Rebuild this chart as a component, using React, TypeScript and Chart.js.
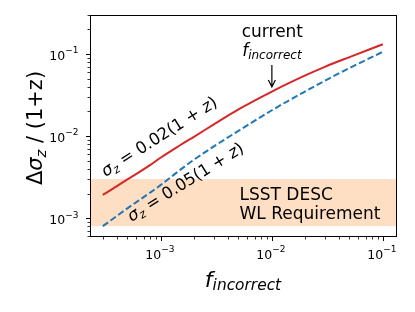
import { useEffect, useRef } from "react";
import { Chart, registerables } from "chart.js";

Chart.register(...registerables);

// ---- data ----
const fIncorrect = [3e-4, 5e-4, 8e-4, 1e-3, 1.5e-3, 2e-3, 3e-3, 5e-3, 1e-2, 2e-2, 3e-2, 5e-2, 1e-1];
const sigma002 = [1.92e-3, 2.97e-3, 4.43e-3, 5.5e-3, 7.8e-3, 9.9e-3, 0.0139, 0.0212, 0.035, 0.055, 0.07, 0.092, 0.132];
const sigma005 = [8e-4, 1.32e-3, 2.05e-3, 2.55e-3, 3.9e-3, 5.2e-3, 7.5e-3, 0.0116, 0.0207, 0.0352, 0.0474, 0.0676, 0.107];

const bandLow = 8e-4;
const bandHigh = 3e-3;

const xMajorTicks = [1e-3, 1e-2, 1e-1];
const xTickExponents = ["\u22123", "\u22122", "\u22121"];
const xMinorTicks = [3e-4, 4e-4, 5e-4, 6e-4, 7e-4, 8e-4, 9e-4, 2e-3, 3e-3, 4e-3, 5e-3, 6e-3, 7e-3, 8e-3, 9e-3, 2e-2, 3e-2, 4e-2, 5e-2, 6e-2, 7e-2, 8e-2, 9e-2];
const yMajorTicks = [1e-3, 1e-2, 1e-1];
const yTickExponents = ["\u22123", "\u22122", "\u22121"];
const yMinorTicks = [6e-4, 7e-4, 8e-4, 9e-4, 2e-3, 3e-3, 4e-3, 5e-3, 6e-3, 7e-3, 8e-3, 9e-3, 2e-2, 3e-2, 4e-2, 5e-2, 6e-2, 7e-2, 8e-2, 9e-2, 2e-1, 3e-1];

const arrowX = 1e-2;

const FAM = '"DejaVu Sans"';
type Part = { t: string; size: number; italic?: boolean; dy?: number };

function drawParts(
  ctx: CanvasRenderingContext2D,
  parts: Part[],
  x: number,
  y: number,
  align: "left" | "center" | "right",
  angle = 0
) {
  ctx.save();
  ctx.translate(x, y);
  ctx.rotate(angle);
  ctx.textBaseline = "alphabetic";
  ctx.textAlign = "left";
  ctx.fillStyle = "#000";
  const widths = parts.map((p) => {
    ctx.font = `${p.italic ? "italic " : ""}${p.size}px ${FAM}`;
    return ctx.measureText(p.t).width;
  });
  const total = widths.reduce((a, b) => a + b, 0);
  let cx = align === "center" ? -total / 2 : align === "right" ? -total : 0;
  parts.forEach((p, i) => {
    ctx.font = `${p.italic ? "italic " : ""}${p.size}px ${FAM}`;
    ctx.fillText(p.t, cx, p.dy || 0);
    cx += widths[i];
  });
  ctx.restore();
}

const tickLabel = (exp: string): Part[] => [
  { t: "10", size: 12.5 },
  { t: exp, size: 9, dy: -6.5 },
];

const deco = {
  id: "deco",
  beforeDatasetsDraw(chart: any) {
    const { ctx, chartArea } = chart;
    const ys = chart.scales.y;
    const top = ys.getPixelForValue(bandHigh);
    const bot = ys.getPixelForValue(bandLow);
    ctx.save();
    ctx.fillStyle = "#ffdfc3";
    ctx.fillRect(chartArea.left, top, chartArea.right - chartArea.left, bot - top);
    ctx.restore();
  },
  afterDraw(chart: any) {
    const { ctx, chartArea } = chart;
    const xs = chart.scales.x;
    const ys = chart.scales.y;
    const { left, right, top, bottom } = chartArea;
    ctx.save();
    // frame
    ctx.strokeStyle = "#000";
    ctx.lineWidth = 1;
    ctx.strokeRect(left + 0.5, top + 0.5, right - left - 1, bottom - top - 1);
    // ticks
    ctx.beginPath();
    xMajorTicks.forEach((v) => {
      const p = Math.round(xs.getPixelForValue(v)) + 0.5;
      ctx.moveTo(p, bottom);
      ctx.lineTo(p, bottom + 4);
    });
    yMajorTicks.forEach((v) => {
      const p = Math.round(ys.getPixelForValue(v)) + 0.5;
      ctx.moveTo(left, p);
      ctx.lineTo(left - 4, p);
    });
    ctx.stroke();
    ctx.beginPath();
    ctx.lineWidth = 0.8;
    xMinorTicks.forEach((v) => {
      const p = Math.round(xs.getPixelForValue(v)) + 0.5;
      ctx.moveTo(p, bottom);
      ctx.lineTo(p, bottom + 2.5);
    });
    yMinorTicks.forEach((v) => {
      const p = Math.round(ys.getPixelForValue(v)) + 0.5;
      if (p < top || p > bottom) return;
      ctx.moveTo(left, p);
      ctx.lineTo(left - 2.5, p);
    });
    ctx.stroke();
    ctx.restore();

    // tick labels
    xMajorTicks.forEach((v, i) => {
      drawParts(ctx, tickLabel(xTickExponents[i]), xs.getPixelForValue(v) - 1, 258.5, "center");
    });
    yMajorTicks.forEach((v, i) => {
      drawParts(ctx, tickLabel(yTickExponents[i]), 78.5, ys.getPixelForValue(v) + 5.8, "right");
    });

    // axis titles
    drawParts(
      ctx,
      [
        { t: "f", size: 22, italic: true },
        { t: "incorrect", size: 15.4, italic: true, dy: 3 },
      ],
      243,
      287,
      "center"
    );
    drawParts(
      ctx,
      [
        { t: "\u0394", size: 21 },
        { t: "\u03C3", size: 21, italic: true },
        { t: "z", size: 14.7, italic: true, dy: 4 },
        { t: " / (1+z)", size: 21 },
      ],
      42,
      128,
      "center",
      -Math.PI / 2
    );

    // band text
    drawParts(ctx, [{ t: "LSST DESC", size: 17 }], 239.5, 199.5, "left");
    drawParts(ctx, [{ t: "WL Requirement", size: 17 }], 239.5, 218.5, "left");

    // current f_incorrect annotation
    const ax = xs.getPixelForValue(arrowX);
    drawParts(ctx, [{ t: "current", size: 17 }], ax + 0.5, 36.7, "center");
    drawParts(
      ctx,
      [
        { t: "f", size: 17, italic: true },
        { t: "incorrect", size: 12, italic: true, dy: 2.5 },
      ],
      ax,
      56,
      "center"
    );
    ctx.save();
    ctx.strokeStyle = "#000";
    ctx.lineWidth = 1.2;
    ctx.beginPath();
    ctx.moveTo(ax, 65);
    ctx.lineTo(ax, 87);
    ctx.moveTo(ax - 3.5, 80);
    ctx.lineTo(ax, 87);
    ctx.lineTo(ax + 3.5, 80);
    ctx.stroke();
    ctx.restore();

    // rotated curve labels
    const lab = (c: string): Part[] => [
      { t: "\u03C3", size: 16.5, italic: true },
      { t: "z", size: 11.5, italic: true, dy: 3 },
      { t: " = " + c + "(1 + ", size: 16.5 },
      { t: "z", size: 16.5, italic: true },
      { t: ")", size: 16.5 },
    ];
    drawParts(ctx, lab("0.02"), 105.5, 177, "left", (-32.5 * Math.PI) / 180);
    drawParts(ctx, lab("0.05"), 131.5, 222, "left", (-32 * Math.PI) / 180);
  },
};

export default function App() {
  const ref = useRef<HTMLCanvasElement>(null);
  useEffect(() => {
    document.body.style.margin = "0";
    const chart = new Chart(ref.current!, {
      type: "line",
      data: {
        datasets: [
          {
            data: fIncorrect.map((x, i) => ({ x, y: sigma002[i] })),
            borderColor: "#d62728",
            borderWidth: 2,
            pointRadius: 0,
            fill: false,
            cubicInterpolationMode: "monotone",
          },
          {
            data: fIncorrect.map((x, i) => ({ x, y: sigma005[i] })),
            borderColor: "#1f77b4",
            borderWidth: 2,
            borderDash: [6.5, 3],
            pointRadius: 0,
            fill: false,
            cubicInterpolationMode: "monotone",
          },
        ],
      },
      options: {
        responsive: false,
        animation: false,
        events: [],
        layout: { padding: { left: 0, right: 18, top: 15, bottom: 0 } },
        plugins: { legend: { display: false }, tooltip: { enabled: false } },
        scales: {
          x: {
            type: "logarithmic",
            min: 2.3e-4,
            max: 0.134,
            grid: { display: false, drawTicks: false },
            border: { display: false },
            afterBuildTicks: (s: any) => {
              s.ticks = xMajorTicks.map((v) => ({ value: v }));
            },
            afterFit: (s: any) => {
              s.height = 75;
            },
            ticks: { display: false },
          },
          y: {
            type: "logarithmic",
            min: 5.9e-4,
            max: 0.3,
            grid: { display: false, drawTicks: false },
            border: { display: false },
            afterBuildTicks: (s: any) => {
              s.ticks = yMajorTicks.map((v) => ({ value: v }));
            },
            afterFit: (s: any) => {
              s.width = 90;
            },
            ticks: { display: false },
          },
        },
      },
      plugins: [deco],
    } as any);
    return () => chart.destroy();
  }, []);
  return <canvas ref={ref} width={415} height={312} style={{ display: "block" }} />;
}
